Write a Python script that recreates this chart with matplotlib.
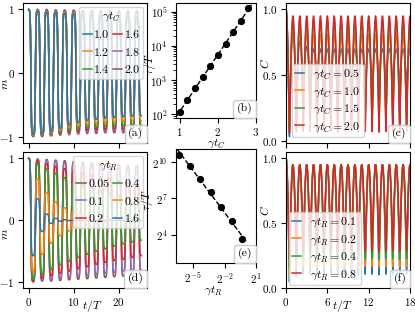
import numpy as np
import matplotlib
matplotlib.use("Agg")
import matplotlib.pyplot as plt
from matplotlib.ticker import FixedLocator, LogFormatterSciNotation, NullLocator
from matplotlib.offsetbox import AnchoredText

plt.rcParams['font.family'] = 'serif'
plt.rcParams['font.serif'] = ['cmr10']
plt.rcParams['mathtext.fontset'] = 'cm'
plt.rcParams['axes.formatter.use_mathtext'] = True
plt.rcParams['font.size'] = 8.5
plt.rcParams['xtick.labelsize'] = 8
plt.rcParams['ytick.labelsize'] = 8
plt.rcParams['xtick.major.pad'] = 2.5
plt.rcParams['ytick.major.pad'] = 2.5
plt.rcParams['axes.linewidth'] = 0.8

# ================= data =================
# (a) magnetisation extrema, peaks at t/T = 0,2,..,24 and troughs at 1,3,..,25
gtc_a = [1.0, 1.2, 1.4, 1.6, 1.8, 2.0]
peaks_a = [
    [1.00, 0.97, 0.96, 0.95, 0.94, 0.93, 0.92, 0.91, 0.90, 0.90, 0.89, 0.89, 0.88],
    [1.00, 0.98, 0.97, 0.96, 0.96, 0.95, 0.94, 0.94, 0.93, 0.93, 0.92, 0.92, 0.92],
    [1.00, 0.99, 0.98, 0.97, 0.97, 0.96, 0.96, 0.95, 0.95, 0.95, 0.94, 0.94, 0.94],
    [1.00, 0.99, 0.99, 0.98, 0.98, 0.97, 0.97, 0.97, 0.96, 0.96, 0.96, 0.96, 0.96],
    [1.00, 1.00, 0.99, 0.99, 0.98, 0.98, 0.98, 0.98, 0.97, 0.97, 0.97, 0.97, 0.97],
    [1.00, 1.00, 1.00, 0.99, 0.99, 0.99, 0.98, 0.98, 0.98, 0.98, 0.98, 0.98, 0.98],
]
troughs_a = [
    [-0.97, -0.96, -0.92, -0.87, -0.82, -0.78, -0.75, -0.73, -0.71, -0.70, -0.69, -0.68, -0.67],
    [-0.98, -0.97, -0.94, -0.90, -0.86, -0.83, -0.81, -0.79, -0.78, -0.77, -0.76, -0.75, -0.75],
    [-0.99, -0.98, -0.96, -0.93, -0.90, -0.88, -0.86, -0.85, -0.84, -0.83, -0.83, -0.82, -0.82],
    [-0.99, -0.99, -0.97, -0.95, -0.93, -0.92, -0.90, -0.89, -0.89, -0.88, -0.88, -0.87, -0.87],
    [-1.00, -0.99, -0.98, -0.97, -0.95, -0.94, -0.93, -0.92, -0.92, -0.91, -0.91, -0.91, -0.90],
    [-1.00, -1.00, -0.99, -0.98, -0.97, -0.96, -0.95, -0.95, -0.94, -0.94, -0.94, -0.93, -0.93],
]

# (d) magnetisation extrema at t/T = 0,1,..,25
gtr_d = [0.05, 0.1, 0.2, 0.4, 0.8, 1.6]
ext_d = [
    [1.00, -0.99, 0.99, -0.98, 0.98, -0.98, 0.97, -0.97, 0.96, -0.96, 0.95, -0.95, 0.94,
     -0.94, 0.93, -0.93, 0.92, -0.92, 0.91, -0.91, 0.90, -0.90, 0.89, -0.89, 0.88, -0.88],
    [1.00, -0.99, 0.98, -0.97, 0.96, -0.96, 0.95, -0.94, 0.93, -0.92, 0.91, -0.90, 0.89,
     -0.89, 0.88, -0.87, 0.86, -0.85, 0.85, -0.84, 0.83, -0.82, 0.82, -0.81, 0.80, -0.80],
    [1.00, -0.98, 0.96, -0.93, 0.91, -0.89, 0.87, -0.85, 0.83, -0.82, 0.80, -0.78, 0.76,
     -0.75, 0.73, -0.71, 0.70, -0.68, 0.67, -0.65, 0.64, -0.63, 0.61, -0.60, 0.59, -0.57],
    [1.00, -0.95, 0.91, -0.87, 0.83, -0.79, 0.76, -0.72, 0.69, -0.66, 0.63, -0.60, 0.58,
     -0.55, 0.53, -0.50, 0.48, -0.46, 0.44, -0.42, 0.40, -0.38, 0.36, -0.35, 0.33, -0.32],
    [1.00, -0.82, 0.67, -0.55, 0.45, -0.37, 0.30, -0.25, 0.20, -0.17, 0.14, -0.11, 0.09,
     -0.07, 0.06, -0.05, 0.04, -0.03, 0.03, -0.02, 0.02, -0.02, 0.01, -0.01, 0.01, -0.01],
    [1.00, -0.57, 0.35, -0.18, 0.10, -0.05, 0.03, -0.015, 0.01, -0.005, 0.0, 0.0, 0.0,
     0.0, 0.0, 0.0, 0.0, 0.0, 0.0, 0.0, 0.0, 0.0, 0.0, 0.0, 0.0, 0.0],
]
colors_d = ['C5', 'C4', 'C3', 'C2', 'C1', 'C0']

# (b) lifetime vs gamma t_C
gtc_b = [1.0, 1.2, 1.4, 1.6, 1.8, 2.0, 2.2, 2.4, 2.6, 2.8]
tau_b = [119, 262, 575, 1240, 2620, 5500, 11700, 25000, 52000, 127000]

# (e) lifetime vs gamma t_R
gtr_e = [0.0125, 0.025, 0.05, 0.1, 0.2, 0.4, 0.8]
tau_e = [1600, 815, 393, 185, 80, 34, 12.3]

# (c) C maxima at t/T = 0..18 and cusp minima at t/T = 0.5..17.5
gtc_c = [0.5, 1.0, 1.5, 2.0]
tops_c = [
    [1.00, 0.85, 0.76, 0.72, 0.70, 0.70, 0.70, 0.70, 0.70, 0.70, 0.70, 0.70, 0.70, 0.70, 0.70, 0.70, 0.70, 0.70, 0.70],
    [1.00, 0.88, 0.84, 0.82, 0.81, 0.81, 0.81, 0.81, 0.81, 0.81, 0.81, 0.81, 0.81, 0.81, 0.81, 0.81, 0.81, 0.81, 0.81],
    [1.00, 0.92, 0.90, 0.90, 0.90, 0.90, 0.90, 0.90, 0.90, 0.90, 0.90, 0.90, 0.90, 0.90, 0.90, 0.90, 0.90, 0.90, 0.90],
    [1.00, 0.95, 0.95, 0.95, 0.95, 0.95, 0.95, 0.95, 0.95, 0.95, 0.95, 0.95, 0.95, 0.95, 0.95, 0.95, 0.95, 0.95, 0.95],
]
mins_c = [
    [0.03, 0.30, 0.38, 0.41, 0.42, 0.43, 0.43, 0.43, 0.43, 0.43, 0.43, 0.43, 0.43, 0.43, 0.43, 0.43, 0.43, 0.43],
    [0.12, 0.15, 0.16, 0.17, 0.17, 0.17, 0.17, 0.17, 0.17, 0.17, 0.17, 0.17, 0.17, 0.17, 0.17, 0.17, 0.17, 0.17],
    [0.09, 0.11, 0.12, 0.12, 0.12, 0.12, 0.12, 0.12, 0.12, 0.12, 0.12, 0.12, 0.12, 0.12, 0.12, 0.12, 0.12, 0.12],
    [0.06, 0.07, 0.07, 0.07, 0.07, 0.07, 0.07, 0.07, 0.07, 0.07, 0.07, 0.07, 0.07, 0.07, 0.07, 0.07, 0.07, 0.07],
]

# (f)
gtr_f = [0.1, 0.2, 0.4, 0.8]
tops_f = [
    [1.00, 0.95, 0.95, 0.95, 0.95, 0.95, 0.95, 0.95, 0.95, 0.95, 0.95, 0.95, 0.95, 0.95, 0.95, 0.95, 0.95, 0.95, 0.95],
    [1.00, 0.95, 0.95, 0.95, 0.95, 0.95, 0.95, 0.95, 0.95, 0.95, 0.95, 0.95, 0.95, 0.95, 0.95, 0.95, 0.95, 0.95, 0.95],
    [1.00, 0.95, 0.95, 0.95, 0.95, 0.95, 0.95, 0.95, 0.95, 0.95, 0.95, 0.95, 0.95, 0.95, 0.95, 0.95, 0.95, 0.95, 0.95],
    [1.00, 0.95, 0.95, 0.95, 0.95, 0.95, 0.95, 0.95, 0.95, 0.95, 0.95, 0.95, 0.95, 0.95, 0.95, 0.95, 0.95, 0.95, 0.95],
]
mins_f = [
    [0.04, 0.09, 0.10, 0.10, 0.10, 0.10, 0.10, 0.10, 0.10, 0.10, 0.10, 0.10, 0.10, 0.10, 0.10, 0.10, 0.10, 0.10],
    [0.08, 0.15, 0.16, 0.16, 0.16, 0.16, 0.16, 0.16, 0.16, 0.16, 0.16, 0.16, 0.16, 0.16, 0.16, 0.16, 0.16, 0.16],
    [0.15, 0.21, 0.22, 0.22, 0.22, 0.22, 0.22, 0.22, 0.22, 0.22, 0.22, 0.22, 0.22, 0.22, 0.22, 0.22, 0.22, 0.22],
    [0.22, 0.27, 0.28, 0.28, 0.28, 0.28, 0.28, 0.28, 0.28, 0.28, 0.28, 0.28, 0.28, 0.28, 0.28, 0.28, 0.28, 0.28],
]


# ================= curve shapes through the read extrema =================
def flip_curve(t, extrema, beta=2.5):
    k = np.clip(np.rint(t).astype(int), 0, len(extrema) - 1)
    s = np.abs(np.tanh(beta * np.cos(np.pi * t))) / np.tanh(beta)
    return np.asarray(extrema)[k] * s


def arch_curve(t, tops, mins):
    tops = np.asarray(tops)
    mins = np.asarray(mins)
    k = np.rint(t).astype(int)
    j = np.where(t < k, k - 1, k)
    k = np.clip(k, 0, len(tops) - 1)
    j = np.clip(j, 0, len(mins) - 1)
    c = np.abs(np.cos(np.pi * t))
    return mins[j] + (tops[k] - mins[j]) * c


# ================= figure =================
W, H = 415, 312
fig = plt.figure(figsize=(W / 100, H / 100), dpi=100)


def px_axes(l, r, t, b):
    return fig.add_axes([l / W, 1 - b / H, (r - l) / W, (b - t) / H])


def panel_label(ax, s):
    at = AnchoredText(s, loc='lower right', frameon=True, borderpad=0.0, pad=0.3,
                      prop=dict(size=8.5))
    at.patch.set_boxstyle('round,pad=0.,rounding_size=0.2')
    at.patch.set_facecolor((1, 1, 1, 0.8))
    at.patch.set_edgecolor('0.8')
    at.set_zorder(6)
    ax.add_artist(at)


ax_a = px_axes(23, 147, 3, 143)
ax_d = px_axes(23, 147, 152, 288)
ax_b = px_axes(176, 256, 3, 118)
ax_e = px_axes(176, 256, 149, 263)
ax_c = px_axes(286, 410, 3, 143)
ax_f = px_axes(286, 410, 152, 288)

lw = 1.1
t_m = np.linspace(0, 25, 3001)

# (a)
handles = {}
for i in reversed(range(len(gtc_a))):
    ext = np.empty(26)
    ext[0::2] = peaks_a[i]
    ext[1::2] = troughs_a[i]
    h, = ax_a.plot(t_m, flip_curve(t_m, ext), color=f'C{i}', lw=lw)
    handles[i] = h
ax_a.legend([handles[i] for i in range(len(gtc_a))], [f'{g:.1f}' for g in gtc_a],
            ncol=2, loc='upper right', title=r'$\gamma t_C$', handlelength=0.8,
            handletextpad=0.2, columnspacing=0.3, labelspacing=0.6, borderpad=0.3,
            borderaxespad=0.3, fontsize=8.5, title_fontsize=8.5)
ax_a.set_xticks([0, 10, 20])
ax_a.set_xticklabels([])
ax_a.set_yticks([-1, 0, 1])
ax_a.set_ylabel(r'$m$')
ax_a.yaxis.set_label_coords(-0.105, 0.42)
panel_label(ax_a, '(a)')

# (d)
for i, g in enumerate(gtr_d):
    ax_d.plot(t_m, flip_curve(t_m, ext_d[i]), color=colors_d[i], lw=lw, label=f'{g:g}')
ax_d.legend(ncol=2, loc='upper right', title=r'$\gamma t_R$', handlelength=0.8,
            handletextpad=0.2, columnspacing=0.3, labelspacing=0.6, borderpad=0.3,
            borderaxespad=0.3, fontsize=8.5, title_fontsize=8.5)
ax_d.set_xticks([0, 10, 20])
ax_d.set_yticks([-1, 0, 1])
ax_d.set_ylabel(r'$m$')
ax_d.yaxis.set_label_coords(-0.105, 0.40)
ax_d.set_xlabel(r'$t/T$')
ax_d.xaxis.set_label_coords(0.56, -0.07)
panel_label(ax_d, '(d)')

# (b)
coef_b = np.polyfit(gtc_b, np.log10(tau_b), 1)
xb = np.array([0.92, 2.88])
ax_b.plot(xb, 10 ** np.polyval(coef_b, xb), 'k--', lw=1.0)
ax_b.plot(gtc_b, tau_b, 'ko', ms=4.2)
ax_b.set_yscale('log')
ax_b.set_xlim(0.9, 3.0)
ax_b.set_ylim(78, 1.8e5)
ax_b.set_xticks([1, 2, 3])
ax_b.set_ylabel(r'$\tau/T$')
ax_b.yaxis.set_label_coords(-0.22, 0.465)
ax_b.set_xlabel(r'$\gamma t_C$')
ax_b.xaxis.set_label_coords(0.5, -0.17)
panel_label(ax_b, '(b)')

# (e)
coef_e = np.polyfit(np.log2(gtr_e), np.log2(tau_e), 1)
xe = np.array([0.0105, 1.06])
ax_e.plot(xe, 2 ** np.polyval(coef_e, np.log2(xe)), 'k--', lw=1.0)
ax_e.plot(gtr_e, tau_e, 'ko', ms=4.2)
ax_e.set_xscale('log', base=2)
ax_e.set_yscale('log', base=2)
ax_e.set_xlim(0.01, 2.0)
ax_e.set_ylim(3.1, 2200)
ax_e.xaxis.set_major_locator(FixedLocator([2.0 ** -5, 2.0 ** -2, 2.0 ** 1]))
ax_e.yaxis.set_major_locator(FixedLocator([2.0 ** 4, 2.0 ** 7, 2.0 ** 10]))
ax_e.xaxis.set_major_formatter(LogFormatterSciNotation(base=2))
ax_e.yaxis.set_major_formatter(LogFormatterSciNotation(base=2))
ax_e.xaxis.set_minor_locator(NullLocator())
ax_e.yaxis.set_minor_locator(NullLocator())
ax_e.set_ylabel(r'$\tau/T$')
ax_e.yaxis.set_label_coords(-0.26, 0.55)
ax_e.set_xlabel(r'$\gamma t_R$')
ax_e.xaxis.set_label_coords(0.46, -0.185)
panel_label(ax_e, '(e)')

# (c)
t_c = np.linspace(0, 18, 3001)
for i, g in enumerate(gtc_c):
    ax_c.plot(t_c, arch_curve(t_c, tops_c[i], mins_c[i]), color=f'C{i}', lw=lw,
              label=rf'$\gamma t_C = {g:.1f}$')
ax_c.legend(loc='lower left', handlelength=0.7, labelspacing=0.3, borderpad=0.3,
            fontsize=8.5)
ax_c.set_xlim(0, 18)
ax_c.set_xticks([0, 6, 12, 18])
ax_c.set_xticklabels([])
ax_c.set_yticks([0.0, 0.5, 1.0])
ax_c.set_ylabel(r'$C$')
ax_c.yaxis.set_label_coords(-0.12, 0.57)
panel_label(ax_c, '(c)')

# (f)
for i, g in enumerate(gtr_f):
    ax_f.plot(t_c, arch_curve(t_c, tops_f[i], mins_f[i]), color=f'C{i}', lw=lw,
              label=rf'$\gamma t_R = {g:.1f}$')
ax_f.legend(loc='lower left', handlelength=0.7, labelspacing=0.3, borderpad=0.3,
            borderaxespad=0.25, fontsize=8.5)
ax_f.set_xlim(0, 18)
ax_f.set_xticks([0, 6, 12, 18])
ax_f.set_yticks([0.0, 0.5, 1.0])
ax_f.set_ylabel(r'$C$')
ax_f.yaxis.set_label_coords(-0.12, 0.57)
ax_f.set_xlabel(r'$t/T$')
ax_f.xaxis.set_label_coords(0.45, -0.07)
panel_label(ax_f, '(f)')

fig.savefig('out.png', dpi=100)
